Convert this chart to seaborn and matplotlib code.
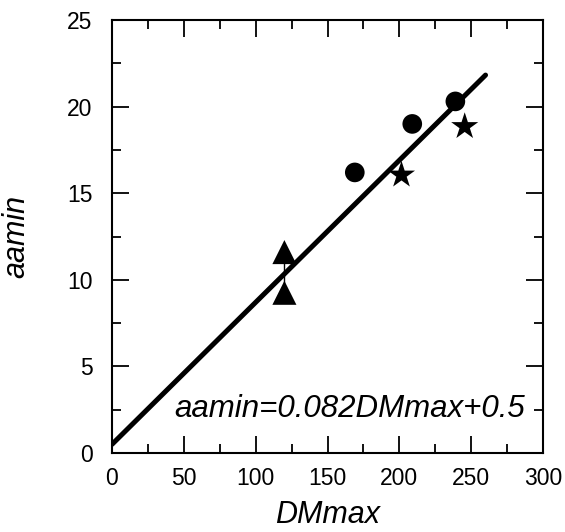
import matplotlib
matplotlib.use("Agg")
import matplotlib.pyplot as plt
import seaborn as sns
import numpy as np
import pandas as pd

# Data
circle_x = [169, 209, 239]
circle_y = [16.2, 19.0, 20.3]
star_x = [201.5, 245.5]
star_y = [16.05, 18.85]
tri_x = [120, 120]
tri_y = [11.6, 9.25]
fit_slope = 0.082
fit_intercept = 0.5
fit_x = [0, 260]
x_ticks = [0, 50, 100, 150, 200, 250, 300]
y_ticks = [0, 5, 10, 15, 20, 25]

sns.set_style("ticks")
plt.rcParams['font.family'] = ['Liberation Sans', 'DejaVu Sans']

fig = plt.figure(figsize=(5.65, 5.32), dpi=100)
ax = fig.add_axes([112/565, 1-453/532, (543-112)/565, (453-20)/532])

fit_df = pd.DataFrame({"x": fit_x, "y": [fit_slope*v + fit_intercept for v in fit_x]})
sns.lineplot(data=fit_df, x="x", y="y", ax=ax, color="black", linewidth=3.6, zorder=2)

# thin connector between triangles
ax.plot(tri_x, tri_y, color="black", linewidth=1.0, zorder=1)

sns.scatterplot(x=circle_x, y=circle_y, ax=ax, marker="o", s=200, color="black", edgecolor="none", zorder=3)
sns.scatterplot(x=star_x, y=star_y, ax=ax, marker="*", s=420, color="black", edgecolor="none", zorder=3)
sns.scatterplot(x=tri_x, y=tri_y, ax=ax, marker="^", s=300, color="black", edgecolor="none", zorder=3)

ax.set_xlim(0, 300)
ax.set_ylim(0, 25)
ax.set_xticks(x_ticks)
ax.set_yticks(y_ticks)
ax.set_xticks(np.arange(25, 300, 50), minor=True)
ax.set_yticks(np.arange(2.5, 25, 5), minor=True)
ax.tick_params(which="both", direction="in", top=True, right=True, width=1.3, color="black")
ax.tick_params(which="major", length=12, labelsize=16.5, labelcolor="black")
ax.tick_params(axis="y", which="major", pad=14)
ax.tick_params(axis="x", which="major", pad=10)
ax.tick_params(which="minor", length=6.5)
for s in ax.spines.values():
    s.set_linewidth(1.5)
    s.set_color("black")

ax.set_xlabel("DMmax", fontsize=22, style="italic", labelpad=7.5, color="black")
ax.set_ylabel("aamin", fontsize=22, style="italic", labelpad=26, color="black")

ax.text(287.5, 2.08, "aamin=0.082DMmax+0.5", fontsize=22.5, style="italic",
        ha="right", va="baseline", color="black")

fig.savefig("out.png", dpi=100)
